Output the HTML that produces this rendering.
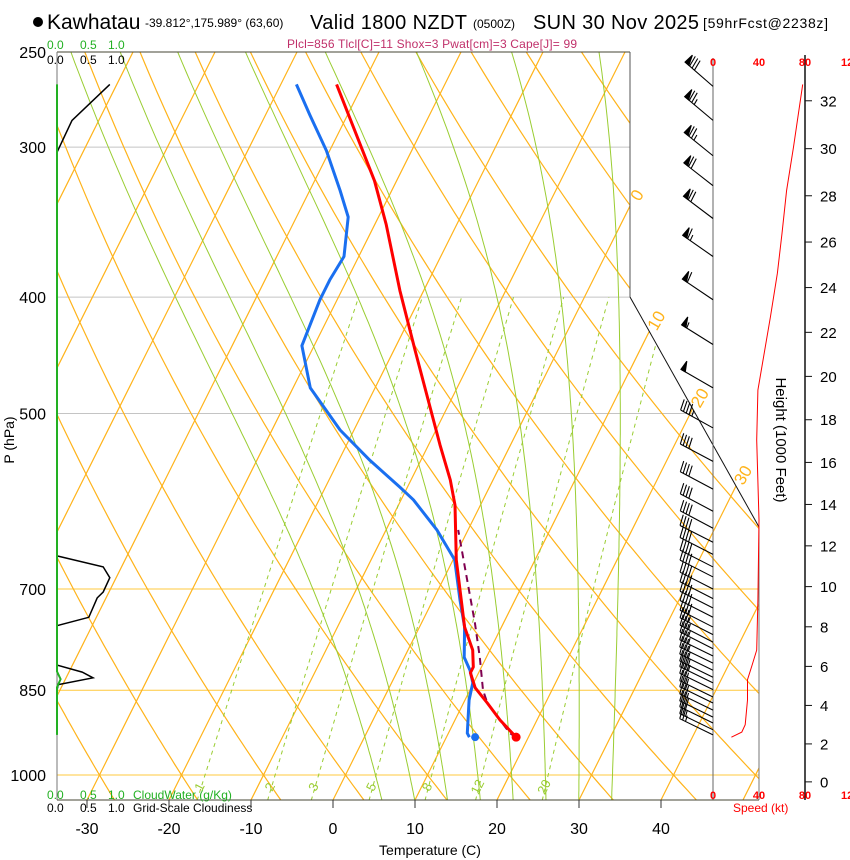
<!DOCTYPE html>
<html><head><meta charset="utf-8"><style>
body{margin:0;background:#fff}
svg{display:block;font-family:"Liberation Sans",sans-serif}
</style></head><body>
<svg id="chart" width="850" height="860" viewBox="0 0 850 860" xmlns="http://www.w3.org/2000/svg">
<defs><clipPath id="plotClip"><polygon points="57,52 630,52 630,297 759,527 759,800 57,800"/></clipPath>
<clipPath id="leftClip"><rect x="57" y="40" width="800" height="800"/></clipPath></defs>
<rect width="850" height="860" fill="#fff"/>
<g id="grid" clip-path="url(#plotClip)"></g>
<g id="frame" stroke-width="1" fill="none">
  <line x1="57" y1="52" x2="630" y2="52" stroke="#443"/>
  <line x1="57" y1="52" x2="57" y2="800" stroke="#777"/>
  <line x1="630" y1="52" x2="630" y2="297" stroke="#555"/>
  <line x1="630" y1="297" x2="759" y2="527" stroke="#111"/>
  <line x1="759" y1="527" x2="759" y2="800" stroke="#777"/>
  <line x1="713" y1="58" x2="713" y2="800" stroke="#666"/>
  <line x1="57" y1="800" x2="759" y2="800" stroke="#443"/>
  <line x1="805" y1="55" x2="805" y2="800" stroke="#111" stroke-width="1.5"/>
</g>
<g id="labels"></g>
<g id="series"></g>
<g id="text" fill="#000">
  <circle cx="38" cy="22" r="5" fill="#000"/>
  <text x="47" y="29" font-size="21">Kawhatau</text>
  <text x="145" y="27" font-size="12">-39.812°,175.989° (63,60)</text>
  <text x="310" y="29" font-size="20" textLength="157">Valid 1800 NZDT</text>
  <text x="473" y="28" font-size="12">(0500Z)</text>
  <text x="533" y="29" font-size="20" textLength="166">SUN 30 Nov 2025</text>
  <text x="703" y="28" font-size="14" textLength="125">[59hrFcst@2238z]</text>
  <text x="287" y="48" font-size="12" fill="#c0306a" textLength="290">Plcl=856 Tlcl[C]=11 Shox=3 Pwat[cm]=3 Cape[J]= 99</text>
  <text x="47" y="49" font-size="12" fill="#22b022">0.0</text>
  <text x="80" y="49" font-size="12" fill="#22b022">0.5</text>
  <text x="108" y="49" font-size="12" fill="#22b022">1.0</text>
  <text x="47" y="64" font-size="12">0.0</text>
  <text x="80" y="64" font-size="12">0.5</text>
  <text x="108" y="64" font-size="12">1.0</text>
  <text x="47" y="799" font-size="12" fill="#22b022">0.0</text>
  <text x="80" y="799" font-size="12" fill="#22b022">0.5</text>
  <text x="108" y="799" font-size="12" fill="#22b022">1.0</text>
  <text x="133" y="799" font-size="12" fill="#22b022">CloudWater (g/Kg)</text>
  <text x="47" y="812" font-size="12">0.0</text>
  <text x="80" y="812" font-size="12">0.5</text>
  <text x="108" y="812" font-size="12">1.0</text>
  <text x="133" y="812" font-size="12">Grid-Scale Cloudiness</text>
  <text x="430" y="855" font-size="14" text-anchor="middle">Temperature (C)</text>
  <text x="0" y="0" font-size="14" text-anchor="middle" transform="translate(14,440) rotate(-90)">P (hPa)</text>
  <text x="0" y="0" font-size="15" text-anchor="middle" transform="translate(776,440) rotate(90)">Height (1000 Feet)</text>
  <text x="733" y="812" font-size="12" fill="#f00">Speed (kt)</text>
</g>
<script>
// ---------- data ----------
const tempP  = [266,320,348,395,443,487,531,568,596,662,753,787,813,822,846,871,900,930];
const tempC  = [-43.2,-32.7,-28.6,-22.9,-17.4,-12.8,-8.6,-5.2,-3.1,0.4,5.5,7.9,9.0,9.0,10.5,12.9,15.5,18.5];
const dewP   = [266,282,302,326,343,370,387,402,439,476,516,547,576,590,625,662,715,753,798,818,838,866,923,930];
const dewC   = [-48.1,-44.6,-40.4,-36.3,-33.7,-31.8,-32.1,-32.1,-31.5,-27.9,-21.7,-16.2,-10.9,-8.5,-3.8,0.2,3.3,5.5,7.3,8.8,9.9,10.5,12.3,12.8];
const parcelP = [930,923,871,850,798,747,692,625];
const parcelC = [18.5,17.5,12.9,11.6,9.2,6.5,3.2,-1.2];
const sfcP = 930, sfcT = 18.5, sfcTd = 13.5;
const barbP   = [267,285,305,323,344,370,402,438,476,514,548,578,603,623,640,655,671,684,700,713,726,739,753,764,775,785,796,807,818,829,838,849,861,871,883,895,905,917,926];
const barbSpd = [78,76,73,70,68,65,60,55,48,44,42,42,42,41,41,41,40,40,40,39,38,38,38,37,37,36,36,35,35,34,33,31,30,30,29,29,28,27,25];
const barbDir = [311,310,309,308,307,305,304,302,300,299,298,298,298,298,297,297,297,297,297,297,297,297,297,297,297,297,296,296,296,296,296,296,296,296,296,296,296,296,296];
const spdP  = [266,300,326,354,382,415,454,478,526,613,715,787,810,833,866,908,921,930];
const spdKt = [78,70,64,60,56,50,43,39,38,40,39,38,34,30,30,28,25,16];
const cloudP    = [266,285,303,657,671,685,704,712,739,751,810,821,830,841,850];
const cloudFrac = [0.88,0.25,0,0,0.77,0.88,0.77,0.67,0.53,0,0,0.42,0.6,0.02,0];
const cwP = [266,820,832,845,926];
const cwVal = [0,0,0.06,0,0];
const mixRatios = [1,2,3,5,8,12,20];
const moistStart = [6,10,14,18,22,26,30,34];
const isoTemps = [-110,-100,-90,-80,-70,-60,-50,-40,-30,-20,-10,0,10,20,30,40,50];
const thetaC = [-60,-50,-40,-30,-20,-10,0,10,20,30,40,50,60,70,80,90,100,110,120,130,140,150];
const isobarsGrey = [300,400,500];
const isobarsOrange = [700,850,1000];
const pressTicks = [250,300,400,500,700,850,1000];
const tempTicks = [-30,-20,-10,0,10,20,30,40];
const heightTicks = [0,2,4,6,8,10,12,14,16,18,20,22,24,26,28,30,32];
const speedTicks = ["0","40","80","12"];
const speedTickVals = [0,40,80,120];
const isoLabelTemps = [0,10,20,30];

// ---------- axes ----------
const NS = 'http://www.w3.org/2000/svg';
const svg = document.getElementById('chart');
const gGrid = document.getElementById('grid');
const gSer = document.getElementById('series');
const gLab = document.getElementById('labels');
const yOf = p => 775 - 521.5*Math.log(1000/p);
const xOf = (t,p) => 333 + 8.2*t + 0.5*(800 - yOf(p));
const xSpd = k => 713 + 1.15*k;
const xCloud = f => 57 + 60*f;
function mk(tag, attrs, parent){ const e=document.createElementNS(NS,tag); for(const k in attrs) e.setAttribute(k,attrs[k]); parent.appendChild(e); return e; }
function pathD(pts){ return pts.map((q,i)=>(i?'L':'M')+q[0].toFixed(1)+','+q[1].toFixed(1)).join(''); }
const ORANGE='#ffb31a', GREEN='#9acd32';

isobarsGrey.forEach(p=>{ const l=mk('line',{x1:57,x2:760,y1:yOf(p),y2:yOf(p),stroke:'#c4c4c4','stroke-width':1},gGrid);
 
  });
isobarsOrange.forEach(p=>{ const l=mk('line',{x1:57,x2:760,y1:yOf(p),y2:yOf(p),stroke:'#ffc83c','stroke-width':1},gGrid);
 
  });
isoTemps.forEach(t=>{ const l=mk('line',{x1:xOf(t,1050),y1:yOf(1050),x2:xOf(t,240),y2:yOf(240),stroke:ORANGE,'stroke-width':1.2},gGrid);
 
  });
thetaC.forEach(th=>{ const pts=[]; for(let p=1050;p>=240;p-=10){ const T=(th+273.15)*Math.pow(p/1000,0.2857)-273.15; pts.push([xOf(T,p),yOf(p)]); }
 const e=mk('path',{d:pathD(pts),stroke:ORANGE,'stroke-width':1.2,fill:'none'},gGrid);
 
  });
function es(tc){ return 6.112*Math.exp(17.67*tc/(tc+243.5)); }
moistStart.forEach(t0=>{ let T=t0+273.15; const pts=[]; for(let p=1050;p>=240;p-=5){ pts.push([xOf(T-273.15,p),yOf(p)]);
  const e=es(T-273.15), rs=0.622*e/(p-e);
  const dTdp=(287*T+2.5e6*rs)/(p*(1004+2.5e6*2.5e6*rs*0.622/(287*T*T)));
  T -= dTdp*5; }
 const e=mk('path',{d:pathD(pts),stroke:GREEN,'stroke-width':1,fill:'none'},gGrid);
 
  });
function tdFromW(w,p){ const e=(w/1000)*p/(0.622+w/1000); const a=Math.log(e/6.112); return 243.5*a/(17.67-a); }
mixRatios.forEach(w=>{ const pts=[]; for(let p=1050;p>=400;p-=10) pts.push([xOf(tdFromW(w,p),p),yOf(p)]);
 const e=mk('path',{d:pathD(pts),stroke:GREEN,'stroke-width':1,'stroke-dasharray':'4,4',fill:'none'},gGrid);
 
 
 const lx=xOf(tdFromW(w,1035),1035)+4, ly=yOf(1035)-4;
 const t=mk('text',{x:0,y:0,'font-size':13,fill:GREEN,'text-anchor':'middle',transform:`translate(${lx.toFixed(1)},${ly.toFixed(1)}) rotate(-63)`},gLab);
 t.textContent=String(w);
 
  });
isoLabelTemps.forEach(t=>{ let yy; const a=333+8.2*t+400;
 yy=(a-630)/0.5; if(yy>297){ yy=(a-630+0.561*297)/(0.5+0.561); }
 const xx=a-0.5*yy;
 const e=mk('text',{x:0,y:0,'font-size':17,fill:ORANGE,'text-anchor':'middle',transform:`translate(${(xx+12).toFixed(1)},${(yy-8).toFixed(1)}) rotate(-60)`},gLab);
 e.textContent=String(t);
 
  });
[['10',63,148],['0',65,292],['-10',65,437],['-20',65,577],['-30',63,717]].forEach(s=>{
 const e=mk('text',{x:0,y:0,'font-size':13,fill:ORANGE,'text-anchor':'middle','clip-path':'url(#leftClip)',transform:`translate(${s[1]},${s[2]}) rotate(55)`},gLab);
 e.textContent=s[0];
 
  });

pressTicks.forEach(p=>{ const e=mk('text',{x:46,y:yOf(p)+6,'font-size':16,'text-anchor':'end'},gLab);
 e.textContent=String(p);
 
  });
tempTicks.forEach(t=>{ const xx=333+8.2*t;
 const l=mk('line',{x1:xx,x2:xx,y1:800,y2:808,stroke:'#333'},gLab);
 
 
 const e=mk('text',{x:xx,y:834,'font-size':16,'text-anchor':'middle'},gLab);
 e.textContent=String(t);
 
  });
heightTicks.forEach(h=>{ const m=h*304.8; const p=1013.25*Math.pow(1-2.25577e-5*m,5.25588); const y=yOf(p);
 const l=mk('line',{x1:805,x2:812,y1:y,y2:y,stroke:'#111'},gLab);
 
 
 const e=mk('text',{x:820,y:y+5.5,'font-size':15},gLab);
 e.textContent=String(h);
 
  });
speedTicks.forEach((s,i)=>{ [66,799].forEach(yy=>{ const last=(i===speedTicks.length-1);
 const e=mk('text',{x:last?841:xSpd(speedTickVals[i]),y:yy,'font-size':11,'font-weight':'bold',fill:'#f00','text-anchor':last?'start':'middle'},gLab);
 e.textContent=s;
 
  }); });

// ---------- series ----------
{ const e=mk('path',{d:pathD(cloudP.map((p,i)=>[xCloud(cloudFrac[i]),yOf(p)])),stroke:'#000','stroke-width':1.5,fill:'none'},gSer);
  
   }
{ const e=mk('path',{d:pathD(cwP.map((p,i)=>[xCloud(cwVal[i]),yOf(p)])),stroke:'#22b022','stroke-width':2,fill:'none'},gSer);
  
   }
{ const e=mk('path',{d:pathD(spdP.map((p,i)=>[xSpd(spdKt[i]),yOf(p)])),stroke:'#f00','stroke-width':1,fill:'none'},gSer);
  
   }
{ const e=mk('path',{d:pathD(parcelP.map((p,i)=>[xOf(parcelC[i],p),yOf(p)])),stroke:'#800050','stroke-width':2,'stroke-dasharray':'7,5',fill:'none'},gSer);
  
   }
{ const e=mk('path',{d:pathD(dewP.map((p,i)=>[xOf(dewC[i],p),yOf(p)])),stroke:'#1a6ff0','stroke-width':3,fill:'none','stroke-linejoin':'round'},gSer);
  
   }
{ const e=mk('path',{d:pathD(tempP.map((p,i)=>[xOf(tempC[i],p),yOf(p)])),stroke:'#f00','stroke-width':3,fill:'none','stroke-linejoin':'round'},gSer);
  
   }
{ const c=mk('circle',{cx:xOf(sfcT,sfcP),cy:yOf(sfcP),r:4.5,fill:'#f00'},gSer);
  
  
  const d=mk('circle',{cx:xOf(sfcTd,sfcP),cy:yOf(sfcP),r:4,fill:'#1a6ff0'},gSer);
  
   }
barbP.forEach((p,i)=>{ const bx=713, by=yOf(p); const a=barbDir[i]*Math.PI/180;
 const ux=Math.sin(a), uy=-Math.cos(a); const L=37;
 const tx=bx+ux*L, ty=by+uy*L; const px=-uy, py=ux;
 let nx=px, ny=py; if(ny>0){nx=-nx;ny=-ny;}
 const g=mk('g',{stroke:'#000','stroke-width':1.1,fill:'#000'},gSer);
 
 
 mk('line',{x1:bx,y1:by,x2:tx,y2:ty},g);
 let s=Math.round(barbSpd[i]/5)*5; let d=0;
 while(s>=50){ const x1=tx-ux*d, y1=ty-uy*d, x2=tx-ux*(d+5), y2=ty-uy*(d+5);
   mk('polygon',{points:`${x1},${y1} ${x1+nx*10-ux*1},${y1+ny*10-uy*1} ${x2},${y2}`},g); d+=6; s-=50; }
 while(s>=10){ const x1=tx-ux*d, y1=ty-uy*d; mk('line',{x1:x1,y1:y1,x2:x1+nx*11+ux*2,y2:y1+ny*11+uy*2},g); d+=3.2; s-=10; }
 if(s>=5){ const x1=tx-ux*d, y1=ty-uy*d; mk('line',{x1:x1,y1:y1,x2:x1+nx*6+ux*1,y2:y1+ny*6+uy*1},g); }
});
</script>
</svg>
</body></html>
